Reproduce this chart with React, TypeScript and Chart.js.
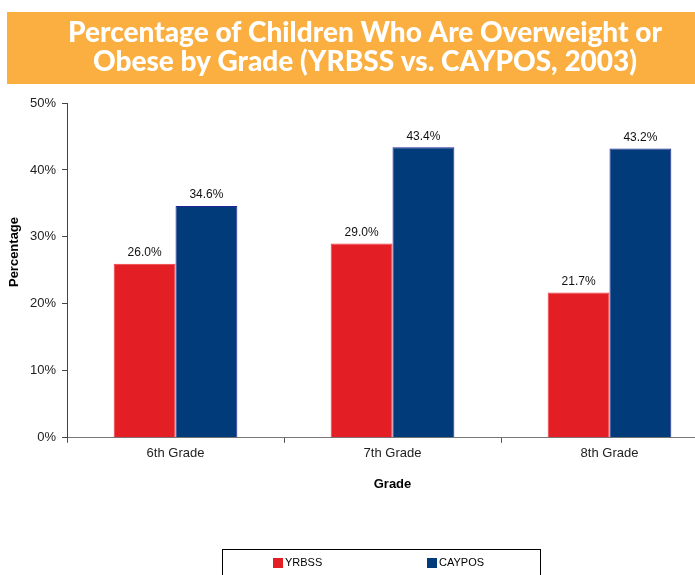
import React, { useEffect, useRef } from "react";
import { Chart, registerables } from "chart.js";

Chart.register(...registerables);

const TITLE_LINES = [
  "Percentage of Children Who Are Overweight or",
  "Obese by Grade (YRBSS vs. CAYPOS, 2003)",
];
const CATEGORIES = ["6th Grade", "7th Grade", "8th Grade"];
const SERIES_NAMES = ["YRBSS", "CAYPOS"];
const YRBSS_VALUES = [26.0, 29.0, 21.7];
const CAYPOS_VALUES = [34.6, 43.4, 43.2];
const Y_MIN = 0;
const Y_MAX = 50;
const Y_STEP = 10;
const X_TITLE = "Grade";
const Y_TITLE = "Percentage";

const RED = "#E31E25";
const BLUE = "#023B79";
const ORANGE = "#FAAF40";
const FONT = "'Liberation Sans', Arial, sans-serif";

const CANVAS_W = 730;
const CANVAS_H = 575;

const bannerPlugin = {
  id: "banner",
  beforeDraw(chart: any) {
    const { ctx, width } = chart;
    ctx.save();
    ctx.fillStyle = ORANGE;
    ctx.fillRect(7, 12, width - 7, 72);
    ctx.fillStyle = "#FFFFFF";
    ctx.font = "900 28px Lato, 'Open Sans', sans-serif";
    ctx.textAlign = "center";
    ctx.textBaseline = "alphabetic";
    ctx.fillText(TITLE_LINES[0], width / 2, 42);
    ctx.fillText(TITLE_LINES[1], width / 2, 71);
    ctx.restore();
  },
};

const dataLabelPlugin = {
  id: "dataLabels",
  afterDatasetsDraw(chart: any) {
    const { ctx } = chart;
    ctx.save();
    ctx.fillStyle = "#111111";
    ctx.font = `12px ${FONT}`;
    ctx.textAlign = "center";
    ctx.textBaseline = "bottom";
    chart.data.datasets.forEach((ds: any, di: number) => {
      const meta = chart.getDatasetMeta(di);
      meta.data.forEach((bar: any, i: number) => {
        const v = ds.data[i] as number;
        ctx.fillText(v.toFixed(1) + "%", bar.x, bar.y - 5);
      });
    });
    ctx.restore();
  },
};

const yTitlePlugin = {
  id: "yTitle",
  afterDraw(chart: any) {
    const { ctx } = chart;
    ctx.save();
    ctx.translate(14, 252);
    ctx.rotate(-Math.PI / 2);
    ctx.fillStyle = "#000000";
    ctx.font = `bold 13px ${FONT}`;
    ctx.textAlign = "center";
    ctx.textBaseline = "middle";
    ctx.fillText(Y_TITLE, 0, 0);
    ctx.restore();
  },
};

const legendBoxPlugin = {
  id: "legendBox",
  afterDraw(chart: any) {
    const { ctx } = chart;
    ctx.save();
    ctx.strokeStyle = "#000000";
    ctx.lineWidth = 1;
    ctx.strokeRect(222.5, 549.5, 318, 40);
    ctx.font = `11px ${FONT}`;
    ctx.textBaseline = "middle";
    ctx.textAlign = "left";
    const xs = [273, 427];
    chart.data.datasets.forEach((ds: any, i: number) => {
      ctx.fillStyle = ds.backgroundColor;
      ctx.fillRect(xs[i], 558, 10, 10);
      ctx.fillStyle = "#000000";
      ctx.fillText(ds.label, xs[i] + 12, 563);
    });
    ctx.restore();
  },
};

export default function App() {
  const ref = useRef<HTMLCanvasElement | null>(null);

  useEffect(() => {
    if (!ref.current) return;
    document.body.style.overflow = "hidden";
    const chart = new Chart(ref.current, {
      type: "bar",
      data: {
        labels: CATEGORIES,
        datasets: [
          {
            label: SERIES_NAMES[0],
            data: YRBSS_VALUES,
            backgroundColor: RED,
            borderColor: "#EE3A40",
            borderWidth: 1,
            categoryPercentage: 0.57,
            barPercentage: 1.0,
          },
          {
            label: SERIES_NAMES[1],
            data: CAYPOS_VALUES,
            backgroundColor: BLUE,
            borderColor: "#22229A",
            borderWidth: 1,
            categoryPercentage: 0.57,
            barPercentage: 1.0,
          },
        ],
      },
      options: {
        animation: false,
        responsive: false,
        maintainAspectRatio: false,
        layout: { padding: { top: 103, left: 24, right: 12, bottom: 83 } },
        plugins: {
          legend: { display: false },
          title: { display: false },
          tooltip: { enabled: false },
        },
        scales: {
          x: {
            grid: {
              display: true,
              drawOnChartArea: false,
              drawTicks: true,
              tickLength: 5,
              tickColor: "#555555",
              offset: true,
            },
            border: { display: true, color: "#777777", width: 1 },
            ticks: {
              color: "#222222",
              font: { family: FONT, size: 13 },
              padding: 3,
            },
            title: {
              display: true,
              text: X_TITLE,
              color: "#000000",
              font: { family: FONT, size: 13, weight: "bold" },
              padding: { top: 12, bottom: 0 },
            },
          },
          y: {
            min: Y_MIN,
            max: Y_MAX,
            grid: {
              display: true,
              drawOnChartArea: false,
              drawTicks: true,
              tickLength: 5,
              tickColor: "#444444",
            },
            border: { display: true, color: "#444444", width: 1 },
            ticks: {
              stepSize: Y_STEP,
              color: "#222222",
              font: { family: FONT, size: 13 },
              padding: 6,
              callback: (v: any) => `${v}%`,
            },
          },
        },
      },
      plugins: [bannerPlugin, dataLabelPlugin, yTitlePlugin, legendBoxPlugin],
    });
    return () => chart.destroy();
  }, []);

  return (
    <div style={{ position: "fixed", left: 0, top: 0, width: CANVAS_W, height: CANVAS_H, background: "#FFFFFF" }}>
      <canvas ref={ref} width={CANVAS_W} height={CANVAS_H} style={{ display: "block" }} />
    </div>
  );
}
